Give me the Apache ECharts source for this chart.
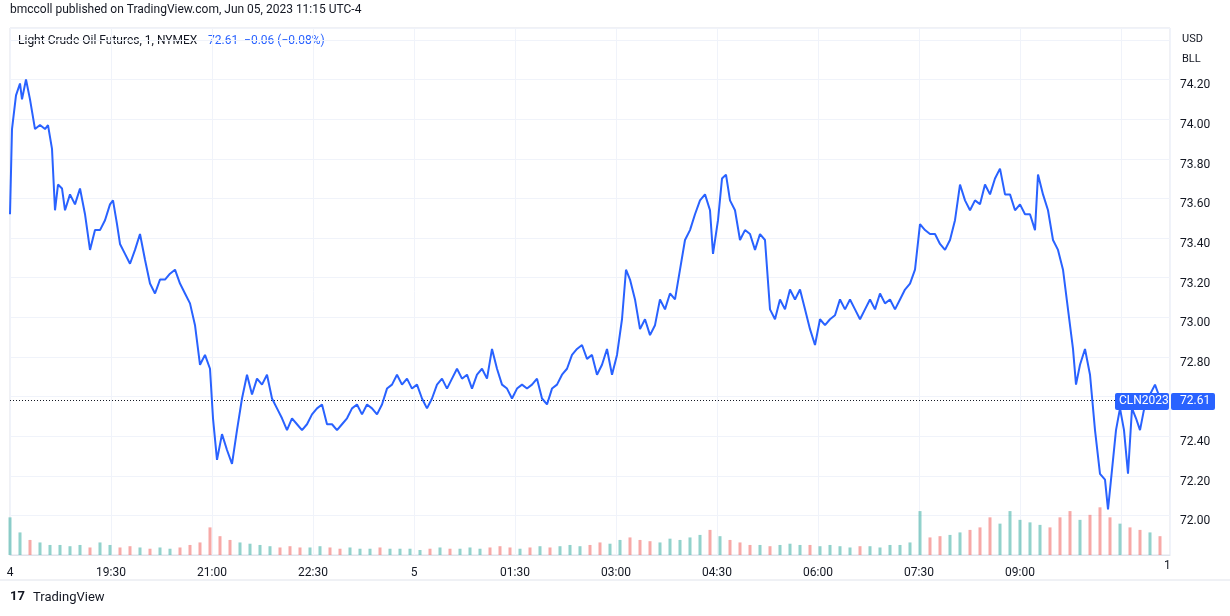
<!DOCTYPE html>
<html><head><meta charset="utf-8">
<script src="https://cdn.jsdelivr.net/npm/echarts@6/dist/echarts.min.js"></script>
<style>html,body{margin:0;padding:0;background:#fff}#c{width:1230px;height:616px}</style>
</head><body><div id="c"></div>
<script>
// bar index (1-minute bars since 18:00 Jun 4, TradingView-compressed)
const barIdx = [0,2,6,10,12,16,20,25,30,35,38,42,45,48,52,55,60,65,70,75,80,85,90,95,100,103,107,110,115,120,125,130,135,140,145,150,155,160,165,170,175,180,185,190,195,200,203,207,212,217,222,227,232,237,242,247,252,257,262,267,272,277,282,287,292,297,302,307,312,317,322,327,332,337,342,347,352,357,362,367,372,377,382,387,392,397,402,407,412,417,422,427,432,437,442,447,452,457,462,467,472,477,482,487,492,497,502,507,512,517,522,527,532,537,542,547,552,557,562,567,572,577,582,587,592,597,602,607,612,616,620,625,630,635,640,645,650,655,660,665,670,675,680,685,690,695,700,703,708,712,716,720,725,730,735,740,745,750,755,760,765,770,775,780,785,790,795,800,805,810,815,820,825,830,835,840,845,850,855,860,865,870,875,880,885,890,895,900,905,910,915,920,925,930,935,940,945,950,955,960,965,970,975,980,985,990,995,1000,1005,1010,1015,1020,1025,1028,1033,1038,1043,1048,1053,1058,1063,1066,1070,1075,1080,1085,1090,1095,1098,1102,1106,1110,1114,1118,1122,1126,1130,1135,1140,1145,1150];
const price = [73.55,73.98,74.15,74.21,74.13,74.23,74.13,73.98,74.00,73.98,74.00,73.88,73.57,73.70,73.68,73.57,73.65,73.60,73.68,73.55,73.37,73.47,73.47,73.52,73.60,73.62,73.50,73.40,73.35,73.30,73.37,73.45,73.32,73.20,73.15,73.22,73.22,73.25,73.27,73.20,73.15,73.10,72.99,72.79,72.84,72.77,72.52,72.31,72.44,72.36,72.29,72.46,72.62,72.74,72.64,72.72,72.69,72.74,72.62,72.57,72.52,72.46,72.52,72.49,72.46,72.49,72.54,72.57,72.59,72.49,72.49,72.46,72.49,72.52,72.57,72.59,72.54,72.59,72.57,72.54,72.59,72.67,72.69,72.74,72.69,72.72,72.67,72.69,72.62,72.57,72.62,72.69,72.72,72.67,72.72,72.77,72.72,72.74,72.67,72.74,72.77,72.72,72.87,72.77,72.69,72.67,72.62,72.67,72.69,72.67,72.69,72.72,72.62,72.59,72.67,72.69,72.74,72.77,72.84,72.87,72.89,72.82,72.84,72.74,72.79,72.87,72.74,72.84,73.02,73.27,73.22,73.12,72.97,73.02,72.94,72.99,73.12,73.07,73.15,73.12,73.27,73.42,73.47,73.55,73.62,73.65,73.57,73.35,73.52,73.73,73.75,73.62,73.57,73.42,73.47,73.45,73.37,73.45,73.42,73.07,73.02,73.12,73.07,73.17,73.12,73.17,73.07,72.97,72.89,73.02,72.99,73.02,73.04,73.12,73.07,73.12,73.07,73.02,73.07,73.12,73.07,73.15,73.10,73.12,73.07,73.12,73.17,73.20,73.27,73.50,73.47,73.45,73.45,73.40,73.37,73.42,73.52,73.70,73.62,73.57,73.62,73.60,73.70,73.65,73.73,73.78,73.65,73.65,73.57,73.60,73.55,73.55,73.47,73.75,73.65,73.57,73.42,73.37,73.27,73.07,72.87,72.69,72.79,72.87,72.74,72.46,72.24,72.21,72.06,72.26,72.46,72.57,72.46,72.24,72.57,72.52,72.46,72.59,72.64,72.69,72.62];
const volume = [30,18,12,10,8,8,7,8,6,10, 8,6,7,6,5,6,5,6,8,10, 22,15,12,10,9,8,7,6,7,6, 6,7,6,5,6,5,5,6,5,5, 5,4,5,6,5,5,6,5,6,7, 6,5,6,7,6,7,8,7,8,10, 9,12,14,12,11,10,13,12,14,16, 20,15,12,10,8,8,7,8,9,8, 8,7,8,7,6,7,7,6,8,8, 10,35,14,15,16,18,20,22,30,25, 35,28,26,24,22,30,35,28,32,38, 30,25,22,20,18,15];
const volStep = 10;
const xTickLabels = ['4','19:30','21:00','22:30','5','01:30','03:00','04:30','06:00','07:30','09:00'];
const yTicks = [72.00,72.20,72.40,72.80,73.00,73.20,73.40,73.60,73.80,74.00,74.20];
const lastPrice = 72.61;

const n = Math.min(barIdx.length, price.length);
const line = []; for (let i=0;i<n;i++) line.push([barIdx[i], price[i]]);
function priceAt(b){let j=0;while(j<n-1&&barIdx[j+1]<=b)j++;return j;}
const vol = volume.map((v,i)=>{const b=i*volStep;const j=priceAt(b);const up=j>0?price[j]>=price[j-1]:true;
  return {value:[b,v],itemStyle:{color:up?'rgba(38,166,154,0.5)':'rgba(239,83,80,0.5)'}};});

const ch = echarts.init(document.getElementById('c'));
ch.setOption({
  animation:false,
  textStyle:{fontFamily:'Roboto, "DejaVu Sans", sans-serif'},
  grid:{left:10,right:60,top:28,bottom:61,show:true,borderColor:'#e0e3eb',borderWidth:1},
  xAxis:[{type:'value',min:0,max:1160,interval:101,
    axisLine:{show:true,lineStyle:{color:'#e0e3eb'}},axisTick:{show:false},
    splitLine:{show:true,lineStyle:{color:'#f0f3fa'}},
    axisLabel:{color:'#131722',fontSize:12,margin:12,showMaxLabel:false,
      formatter:v=>{const k=Math.round(v/101);return xTickLabels[k]!==undefined?xTickLabels[k]:'';}}}],
  yAxis:[{type:'value',position:'right',min:71.83,max:74.49,interval:0.2,
    axisLine:{show:false},axisTick:{show:false},
    splitLine:{show:true,lineStyle:{color:'#f0f3fa'}},
    axisLabel:{color:'#131722',fontSize:12,margin:10,
      customValues:yTicks,formatter:v=>v.toFixed(2)}},
    {type:'value',min:0,max:420,show:false}],
  series:[
    {type:'bar',yAxisIndex:1,data:vol,barWidth:3,silent:true},
    {type:'line',data:line,showSymbol:false,lineStyle:{color:'#2962ff',width:2},z:5,
      markLine:{silent:true,symbol:'none',label:{show:false},
        lineStyle:{color:'#131722',type:[1,2],width:1},data:[{yAxis:lastPrice}]}}
  ],
  graphic:[
    {type:'text',left:10,top:4,style:{text:'bmccoll published on TradingView.com, Jun 05, 2023 11:15 UTC-4',fill:'#131722',font:'12px Roboto, sans-serif'}},
    {type:'text',left:18,top:35,style:{text:'Light Crude Oil Futures, 1, NYMEX',fill:'#131722',font:'12px Roboto, sans-serif'}},
    {type:'text',left:208,top:35,style:{text:'72.61  −0.06 (−0.08%)',fill:'#2962ff',font:'12px Roboto, sans-serif'}},
    {type:'text',left:1182,top:34,style:{text:'USD',fill:'#131722',font:'11px Roboto, sans-serif'}},
    {type:'text',left:1182,top:54,style:{text:'BLL',fill:'#131722',font:'11px Roboto, sans-serif'}},
    {type:'text',left:1164,top:560,style:{text:'1',fill:'#131722',font:'12px Roboto, sans-serif'}},
    {type:'group',z:100,children:[
      {type:'rect',z:100,shape:{x:1115,y:393,width:54,height:17,r:2},style:{fill:'#2962ff'}},
      {type:'text',z:101,x:1119,y:395,style:{text:'CLN2023',fill:'#fff',font:'12px Roboto, sans-serif'}},
      {type:'rect',z:100,shape:{x:1171,y:393,width:44,height:17,r:2},style:{fill:'#2962ff'}},
      {type:'text',z:101,x:1180,y:395,style:{text:'72.61',fill:'#fff',font:'12px Roboto, sans-serif'}}
    ]},
    {type:'line',shape:{x1:0,y1:580,x2:1230,y2:580},style:{stroke:'#e0e3eb'}},
    {type:'text',left:33,top:591,style:{text:'TradingView',fill:'#131722',font:'13px Roboto, sans-serif'}},
    {type:'text',left:10,top:590,style:{text:'17',fill:'#131722',font:'bold 13px Roboto, sans-serif'}}
  ]
});
</script></body></html>
